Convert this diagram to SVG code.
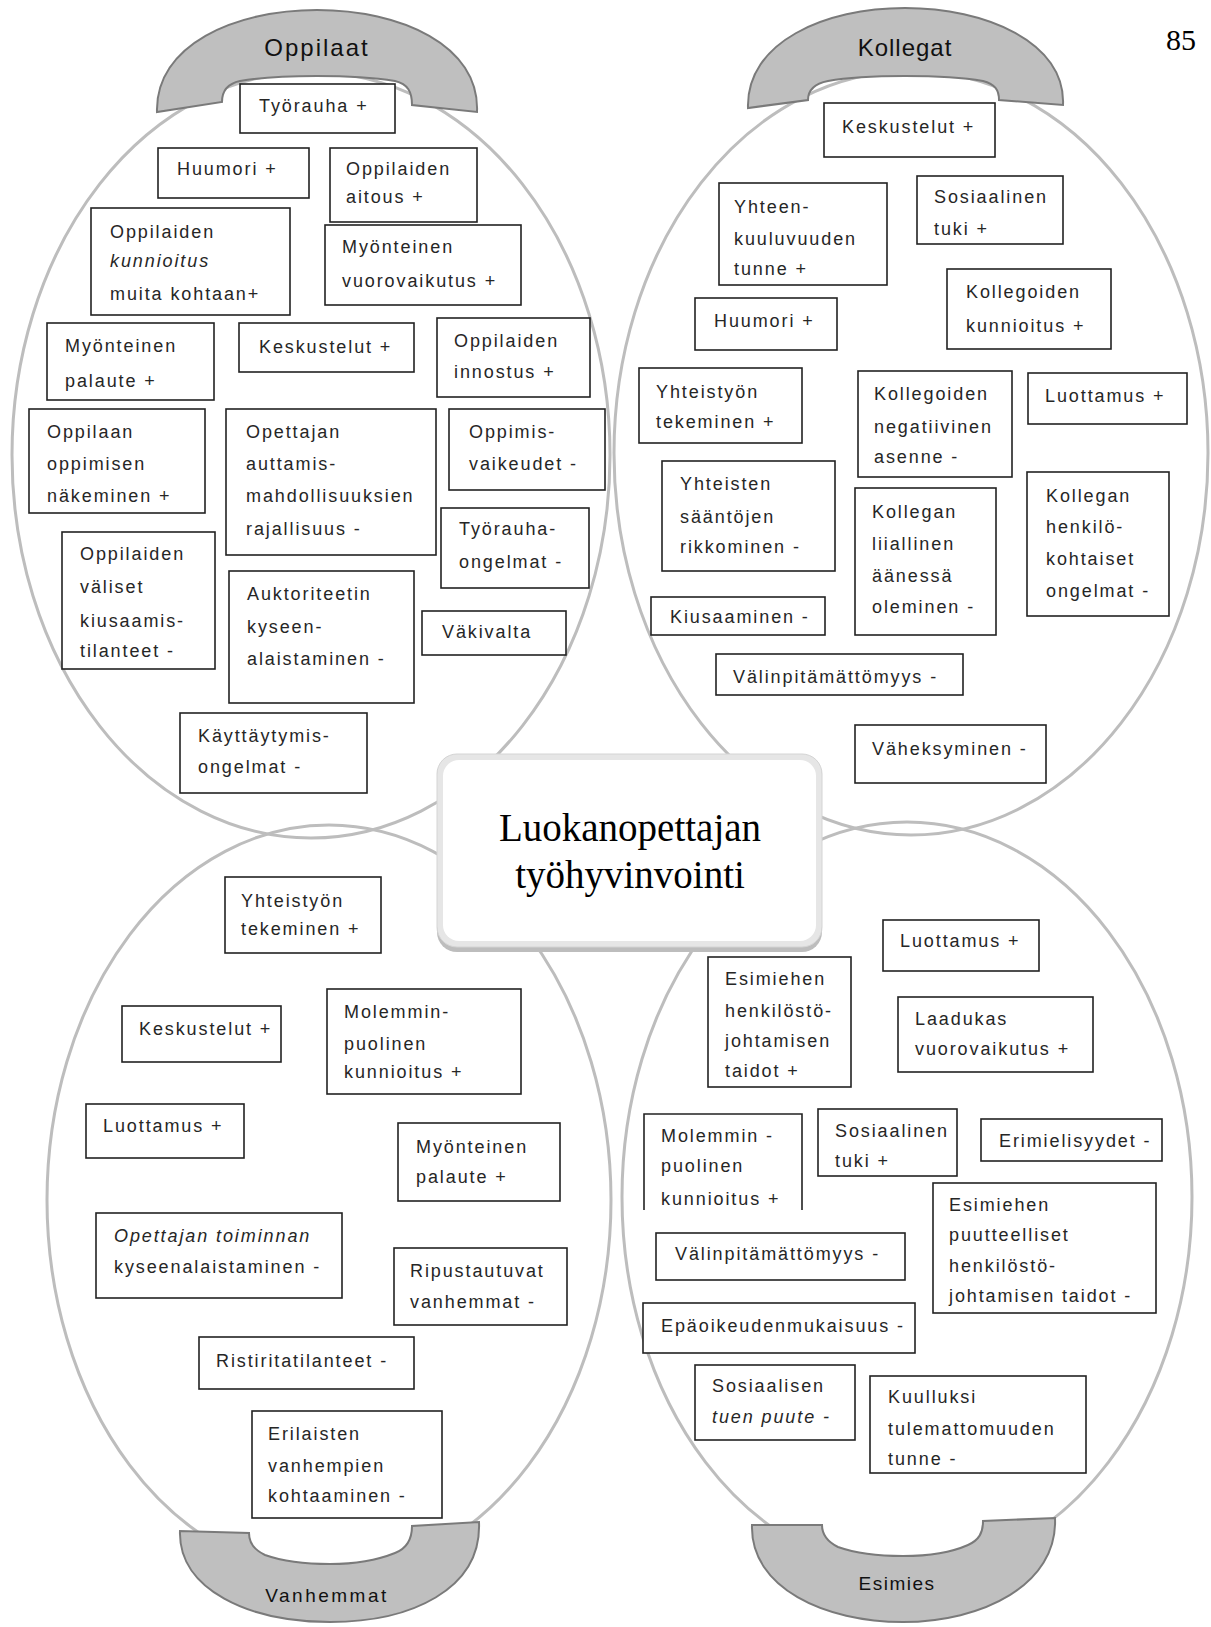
<svg xmlns="http://www.w3.org/2000/svg" width="1211" height="1627" viewBox="0 0 1211 1627">
<style>
.reg{fill:none;stroke:#bdbdbd;stroke-width:3}
.arch{fill:#bfbfbf;stroke:#7a7a7a;stroke-width:2}
.box{fill:#fff;stroke:#222;stroke-width:1.6}
.t{font-family:"Liberation Sans",Arial,sans-serif;font-size:18px;letter-spacing:1.9px;fill:#262626}
.i{font-style:italic}
.al{font-family:"Liberation Sans",Arial,sans-serif;fill:#111;text-anchor:middle}
.ct{font-family:"Liberation Serif","Times New Roman",serif;font-size:39px;fill:#000;text-anchor:middle}
</style>
<defs>
<clipPath id="clip43"><rect x="640" y="1100" width="170" height="110"/></clipPath>
</defs>
<rect width="1211" height="1627" fill="#fff"/>
<text x="1181" y="50" font-family="Liberation Serif,Times New Roman,serif" font-size="30" text-anchor="middle">85</text>

<g id="regions">
<ellipse class="reg" cx="311" cy="455" rx="299" ry="383"/>
<ellipse class="reg" cx="911" cy="453" rx="297" ry="382"/>
<ellipse class="reg" cx="329" cy="1200" rx="282" ry="375"/>
<ellipse class="reg" cx="907" cy="1197" rx="285" ry="375"/>
</g>

<g id="arch-oppilaat">
<path class="arch" d="M157,112 C155,45 235,10 317,10 C400,10 480,45 477,112 L412,105 C412,92 408,84 395,81 C370,77 345,76 317,76 C290,76 262,77 240,81 C226,84 222,92 222,102 Z"/>
<text class="al" x="317" y="56" font-size="24" letter-spacing="2">Oppilaat</text>
</g>
<g id="arch-kollegat">
<path class="arch" d="M748,108 C746,42 825,8 905,8 C985,8 1066,42 1063,105 L999,100 C999,90 995,84 983,81 C960,77 935,76 905,76 C876,76 850,77 828,81 C813,84 808,91 808,100 Z"/>
<text class="al" x="905" y="56" font-size="24" letter-spacing="1">Kollegat</text>
</g>
<g id="arch-vanhemmat">
<path class="arch" d="M180,1531 C178,1590 250,1622 330,1622 C410,1622 482,1590 479,1522 L412,1526 C412,1538 408,1548 395,1553 C375,1561 355,1564 330,1564 C305,1564 282,1561 265,1555 C252,1549 249,1541 249,1533 Z"/>
<text class="al" x="327" y="1602" font-size="19" letter-spacing="2.5">Vanhemmat</text>
</g>
<g id="arch-esimies">
<path class="arch" d="M752,1525 C750,1588 825,1622 903,1622 C982,1622 1058,1585 1055,1518 L983,1521 C983,1533 979,1540 968,1545 C950,1553 928,1556 903,1556 C878,1556 855,1553 838,1547 C826,1541 822,1534 822,1525 Z"/>
<text class="al" x="897" y="1590" font-size="19" letter-spacing="1.5">Esimies</text>
</g>

<g id="center">
<rect x="437" y="756" width="385" height="196" rx="20" fill="#bdbdbd"/>
<rect x="437" y="754" width="385" height="193" rx="20" fill="#e6e6e6" stroke="#d4d4d4" stroke-width="1"/>
<rect x="443" y="760" width="373" height="181" rx="16" fill="#fff"/>
<text class="ct" x="630" y="841">Luokanopettajan</text>
<text class="ct" x="630" y="888">työhyvinvointi</text>
</g>

<g id="n1"><rect class="box" x="240" y="84" width="155" height="49"/><text class="t" x="259" y="112">Työrauha +</text></g>
<g id="n2"><rect class="box" x="158" y="148" width="151" height="50"/><text class="t" x="177" y="175">Huumori +</text></g>
<g id="n3"><rect class="box" x="330" y="148" width="147" height="74"/><text class="t"><tspan x="346" y="175">Oppilaiden</tspan><tspan x="346" y="203">aitous +</tspan></text></g>
<g id="n4"><rect class="box" x="91" y="208" width="199" height="107"/><text class="t"><tspan x="110" y="238">Oppilaiden</tspan><tspan class="i" x="110" y="267">kunnioitus</tspan><tspan x="110" y="300">muita kohtaan+</tspan></text></g>
<g id="n5"><rect class="box" x="325" y="225" width="196" height="80"/><text class="t"><tspan x="342" y="253">Myönteinen</tspan><tspan x="342" y="287">vuorovaikutus +</tspan></text></g>
<g id="n6"><rect class="box" x="47" y="323" width="167" height="77"/><text class="t"><tspan x="65" y="352">Myönteinen</tspan><tspan x="65" y="387">palaute +</tspan></text></g>
<g id="n7"><rect class="box" x="239" y="323" width="175" height="49"/><text class="t" x="259" y="353">Keskustelut +</text></g>
<g id="n8"><rect class="box" x="437" y="318" width="153" height="79"/><text class="t"><tspan x="454" y="347">Oppilaiden</tspan><tspan x="454" y="378">innostus +</tspan></text></g>
<g id="n9"><rect class="box" x="29" y="409" width="176" height="104"/><text class="t"><tspan x="47" y="438">Oppilaan</tspan><tspan x="47" y="470">oppimisen</tspan><tspan x="47" y="502">näkeminen +</tspan></text></g>
<g id="n10"><rect class="box" x="226" y="409" width="210" height="146"/><text class="t"><tspan x="246" y="438">Opettajan</tspan><tspan x="246" y="470">auttamis-</tspan><tspan x="246" y="502">mahdollisuuksien</tspan><tspan x="246" y="535">rajallisuus -</tspan></text></g>
<g id="n11"><rect class="box" x="449" y="409" width="156" height="81"/><text class="t"><tspan x="469" y="438">Oppimis-</tspan><tspan x="469" y="470">vaikeudet -</tspan></text></g>
<g id="n12"><rect class="box" x="441" y="508" width="148" height="80"/><text class="t"><tspan x="459" y="535">Työrauha-</tspan><tspan x="459" y="568">ongelmat -</tspan></text></g>
<g id="n13"><rect class="box" x="62" y="532" width="153" height="137"/><text class="t"><tspan x="80" y="560">Oppilaiden</tspan><tspan x="80" y="593">väliset</tspan><tspan x="80" y="627">kiusaamis-</tspan><tspan x="80" y="657">tilanteet -</tspan></text></g>
<g id="n14"><rect class="box" x="229" y="571" width="185" height="132"/><text class="t"><tspan x="247" y="600">Auktoriteetin</tspan><tspan x="247" y="633">kyseen-</tspan><tspan x="247" y="665">alaistaminen -</tspan></text></g>
<g id="n15"><rect class="box" x="422" y="611" width="144" height="44"/><text class="t" x="442" y="638">Väkivalta</text></g>
<g id="n16"><rect class="box" x="180" y="713" width="187" height="80"/><text class="t"><tspan x="198" y="742">Käyttäytymis-</tspan><tspan x="198" y="773">ongelmat -</tspan></text></g>

<g id="n17"><rect class="box" x="824" y="103" width="171" height="54"/><text class="t" x="842" y="133">Keskustelut +</text></g>
<g id="n18"><rect class="box" x="719" y="183" width="168" height="102"/><text class="t"><tspan x="734" y="213">Yhteen-</tspan><tspan x="734" y="245">kuuluvuuden</tspan><tspan x="734" y="275">tunne +</tspan></text></g>
<g id="n19"><rect class="box" x="917" y="176" width="146" height="68"/><text class="t"><tspan x="934" y="203">Sosiaalinen</tspan><tspan x="934" y="235">tuki +</tspan></text></g>
<g id="n20"><rect class="box" x="695" y="298" width="142" height="52"/><text class="t" x="714" y="327">Huumori +</text></g>
<g id="n21"><rect class="box" x="947" y="269" width="164" height="80"/><text class="t"><tspan x="966" y="298">Kollegoiden</tspan><tspan x="966" y="332">kunnioitus +</tspan></text></g>
<g id="n22"><rect class="box" x="639" y="368" width="163" height="75"/><text class="t"><tspan x="656" y="398">Yhteistyön</tspan><tspan x="656" y="428">tekeminen +</tspan></text></g>
<g id="n23"><rect class="box" x="858" y="371" width="154" height="106"/><text class="t"><tspan x="874" y="400">Kollegoiden</tspan><tspan x="874" y="433">negatiivinen</tspan><tspan x="874" y="463">asenne -</tspan></text></g>
<g id="n24"><rect class="box" x="1028" y="373" width="159" height="51"/><text class="t" x="1045" y="402">Luottamus +</text></g>
<g id="n25"><rect class="box" x="662" y="461" width="173" height="110"/><text class="t"><tspan x="680" y="490">Yhteisten</tspan><tspan x="680" y="523">sääntöjen</tspan><tspan x="680" y="553">rikkominen -</tspan></text></g>
<g id="n26"><rect class="box" x="855" y="488" width="141" height="147"/><text class="t"><tspan x="872" y="518">Kollegan</tspan><tspan x="872" y="550">liiallinen</tspan><tspan x="872" y="582">äänessä</tspan><tspan x="872" y="613">oleminen -</tspan></text></g>
<g id="n27"><rect class="box" x="1027" y="472" width="142" height="144"/><text class="t"><tspan x="1046" y="502">Kollegan</tspan><tspan x="1046" y="533">henkilö-</tspan><tspan x="1046" y="565">kohtaiset</tspan><tspan x="1046" y="597">ongelmat -</tspan></text></g>
<g id="n28"><rect class="box" x="651" y="597" width="174" height="38"/><text class="t" x="670" y="623">Kiusaaminen -</text></g>
<g id="n29"><rect class="box" x="716" y="654" width="247" height="41"/><text class="t" x="733" y="683">Välinpitämättömyys -</text></g>
<g id="n30"><rect class="box" x="855" y="725" width="191" height="58"/><text class="t" x="872" y="755">Väheksyminen -</text></g>

<g id="n31"><rect class="box" x="225" y="877" width="156" height="76"/><text class="t"><tspan x="241" y="907">Yhteistyön</tspan><tspan x="241" y="935">tekeminen +</tspan></text></g>
<g id="n32"><rect class="box" x="122" y="1006" width="159" height="56"/><text class="t" x="139" y="1035">Keskustelut +</text></g>
<g id="n33"><rect class="box" x="327" y="989" width="194" height="105"/><text class="t"><tspan x="344" y="1018">Molemmin-</tspan><tspan x="344" y="1050">puolinen</tspan><tspan x="344" y="1078">kunnioitus +</tspan></text></g>
<g id="n34"><rect class="box" x="86" y="1104" width="158" height="54"/><text class="t" x="103" y="1132">Luottamus +</text></g>
<g id="n35"><rect class="box" x="398" y="1123" width="162" height="78"/><text class="t"><tspan x="416" y="1153">Myönteinen</tspan><tspan x="416" y="1183">palaute +</tspan></text></g>
<g id="n36"><rect class="box" x="96" y="1213" width="246" height="85"/><text class="t"><tspan class="i" x="114" y="1242">Opettajan toiminnan</tspan><tspan x="114" y="1273">kyseenalaistaminen -</tspan></text></g>
<g id="n37"><rect class="box" x="394" y="1248" width="173" height="77"/><text class="t"><tspan x="410" y="1277">Ripustautuvat</tspan><tspan x="410" y="1308">vanhemmat -</tspan></text></g>
<g id="n38"><rect class="box" x="199" y="1337" width="215" height="52"/><text class="t" x="216" y="1367">Ristiritatilanteet -</text></g>
<g id="n39"><rect class="box" x="252" y="1411" width="190" height="107"/><text class="t"><tspan x="268" y="1440">Erilaisten</tspan><tspan x="268" y="1472">vanhempien</tspan><tspan x="268" y="1502">kohtaaminen -</tspan></text></g>

<g id="n40"><rect class="box" x="883" y="920" width="156" height="51"/><text class="t" x="900" y="947">Luottamus +</text></g>
<g id="n41"><rect class="box" x="708" y="957" width="143" height="130"/><text class="t"><tspan x="725" y="985">Esimiehen</tspan><tspan x="725" y="1017">henkilöstö-</tspan><tspan x="725" y="1047">johtamisen</tspan><tspan x="725" y="1077">taidot +</tspan></text></g>
<g id="n42"><rect class="box" x="898" y="997" width="195" height="75"/><text class="t"><tspan x="915" y="1025">Laadukas</tspan><tspan x="915" y="1055">vuorovaikutus +</tspan></text></g>
<g id="n43"><rect x="644" y="1114" width="158" height="96" fill="#fff"/><path d="M644,1210 V1114 H802 V1210" fill="none" stroke="#222" stroke-width="1.6"/><text class="t" clip-path="url(#clip43)"><tspan x="661" y="1142">Molemmin -</tspan><tspan x="661" y="1172">puolinen</tspan><tspan x="661" y="1205">kunnioitus +</tspan></text></g>
<g id="n44"><rect class="box" x="818" y="1109" width="139" height="67"/><text class="t"><tspan x="835" y="1137">Sosiaalinen</tspan><tspan x="835" y="1167">tuki +</tspan></text></g>
<g id="n45"><rect class="box" x="981" y="1119" width="181" height="42"/><text class="t" x="999" y="1147">Erimielisyydet -</text></g>
<g id="n46"><rect class="box" x="933" y="1183" width="223" height="130"/><text class="t"><tspan x="949" y="1211">Esimiehen</tspan><tspan x="949" y="1241">puutteelliset</tspan><tspan x="949" y="1272">henkilöstö-</tspan><tspan x="949" y="1302">johtamisen taidot -</tspan></text></g>
<g id="n47"><rect class="box" x="656" y="1233" width="249" height="47"/><text class="t" x="675" y="1260">Välinpitämättömyys -</text></g>
<g id="n48"><rect class="box" x="643" y="1303" width="272" height="50"/><text class="t" x="661" y="1332">Epäoikeudenmukaisuus -</text></g>
<g id="n49"><rect class="box" x="695" y="1365" width="160" height="75"/><text class="t"><tspan x="712" y="1392">Sosiaalisen</tspan><tspan class="i" x="712" y="1423">tuen puute -</tspan></text></g>
<g id="n50"><rect class="box" x="870" y="1376" width="216" height="97"/><text class="t"><tspan x="888" y="1403">Kuulluksi</tspan><tspan x="888" y="1435">tulemattomuuden</tspan><tspan x="888" y="1465">tunne -</tspan></text></g>
</svg>
